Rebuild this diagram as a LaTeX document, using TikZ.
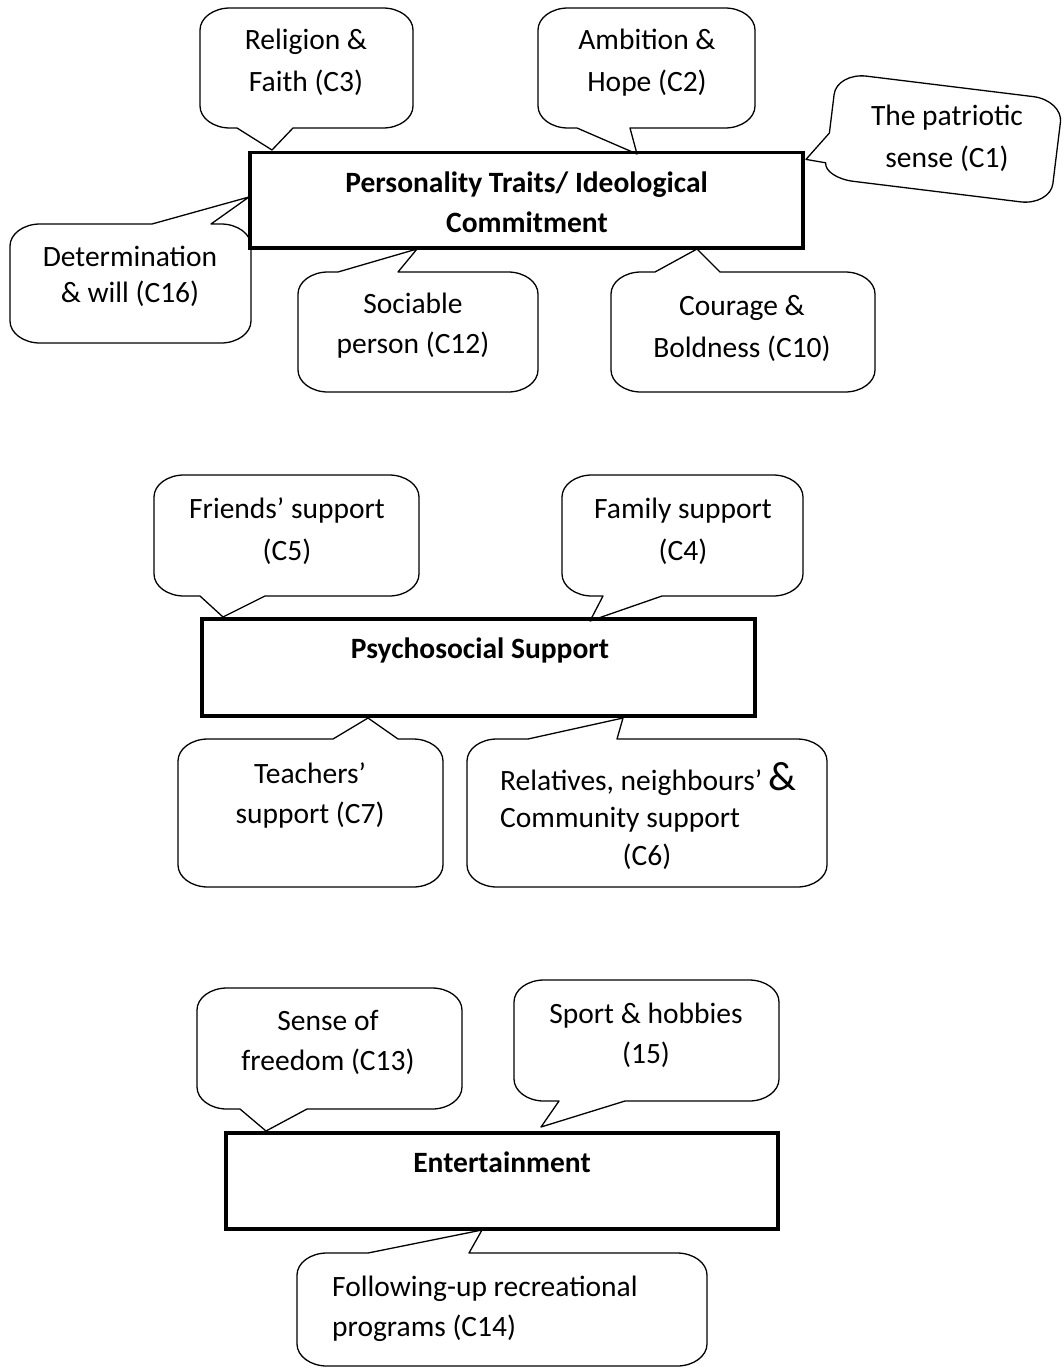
\documentclass[tikz,border=0pt]{standalone}
\usepackage{fontspec}
\setmainfont{Carlito}
% elliptical corner radii (rx, ry) and cubic control offsets (r - 0.552 r)
\def\rx{30}\def\ry{22}\def\cx{13.4}\def\cy{9.9}
% callout with pointer on the bottom edge: x1 y1 x2 y2 base1 tipx tipy base2
\newcommand\cobot[8]{%
  \draw[callout] (#1+\rx,#2) -- (#3-\rx,#2)
    .. controls (#3-\cx,#2) and (#3,#2+\cy) .. (#3,#2+\ry)
    -- (#3,#4-\ry) .. controls (#3,#4-\cy) and (#3-\cx,#4) .. (#3-\rx,#4)
    -- (#8,#4) -- (#6,#7) -- (#5,#4)
    -- (#1+\rx,#4) .. controls (#1+\cx,#4) and (#1,#4-\cy) .. (#1,#4-\ry)
    -- (#1,#2+\ry) .. controls (#1,#2+\cy) and (#1+\cx,#2) .. (#1+\rx,#2) -- cycle;}
% callout with pointer on the top edge
\newcommand\cotop[8]{%
  \draw[callout] (#1+\rx,#2) -- (#5,#2) -- (#6,#7) -- (#8,#2)
    -- (#3-\rx,#2) .. controls (#3-\cx,#2) and (#3,#2+\cy) .. (#3,#2+\ry)
    -- (#3,#4-\ry) .. controls (#3,#4-\cy) and (#3-\cx,#4) .. (#3-\rx,#4)
    -- (#1+\rx,#4) .. controls (#1+\cx,#4) and (#1,#4-\cy) .. (#1,#4-\ry)
    -- (#1,#2+\ry) .. controls (#1,#2+\cy) and (#1+\cx,#2) .. (#1+\rx,#2) -- cycle;}
\tikzset{
  callout/.style={draw=black, fill=white, line width=1.3pt, line join=round},
  mainbox/.style={draw=black, line width=3.3pt, inner sep=0pt, fill=none},
  txt/.style={font=\fontsize{29.5}{35}\selectfont, inner sep=0pt, anchor=base},
  txtl/.style={txt, anchor=base west},
  btxt/.style={font=\fontsize{29.5}{35}\selectfont\bfseries, inner sep=0pt, anchor=base},
}
\begin{document}
\begin{tikzpicture}[x=1pt,y=-1pt]
\useasboundingbox (0,0) rectangle (1063,1370);
\fill[white] (0,0) rectangle (1063,1370);

% ---------- Personality Traits ----------
\cobot{200}{8}{413}{128}{237}{272}{150}{293}
\cobot{538}{8}{755}{128}{577}{637}{154}{630}
\cotop{10}{224}{251}{343}{152}{249}{197}{211}
\cotop{298}{272}{538}{392}{338}{417}{249}{398}
\cotop{611}{272}{875}{392}{655}{697}{249}{720}
\begin{scope}[shift={(943.5,139)}, rotate=-7]
  \coordinate (c1tip) at (-134,37);
  \draw[callout] (-84,-53) -- (84,-53)
    .. controls (100.6,-53) and (114,-43.1) .. (114,-31)
    -- (114,31) .. controls (114,43.1) and (100.6,53) .. (84,53)
    -- (-84,53) .. controls (-100.6,53) and (-114,46.3) .. (-114,38)
    -- (c1tip) -- (-114,8)
    -- (-114,-31) .. controls (-114,-43.1) and (-100.6,-53) .. (-84,-53) -- cycle;
\end{scope}

\node[mainbox, minimum width=553pt, minimum height=95.5pt] (ptbox) at (526.5,200.25) {};

\node[txt] (c3a) at (306,50) {Religion \&};
\node[txt] (c3b) at (306,92) {Faith (C3)};
\node[txt] (c2a) at (647,50) {Ambition \&};
\node[txt] (c2b) at (647,92) {Hope (C2)};
\node[txt] (c1a) at (947,125) {The patriotic};
\node[txt] (c1b) at (947,167) {sense (C1)};
\node[btxt] (pta) at (526.5,192) {Personality Traits/ Ideological};
\node[btxt] (ptb) at (527,232) {Commitment};
\node[txt] (c16a) at (130,266) {Determination};
\node[txt] (c16b) at (130,302) {\& will (C16)};
\node[txt] (c12a) at (413,313) {Sociable};
\node[txt] (c12b) at (413,353) {person (C12)};
\node[txt] (c10a) at (742,315) {Courage \&};
\node[txt] (c10b) at (742,357) {Boldness (C10)};

% ---------- Psychosocial Support ----------
\cobot{154}{475}{419}{596}{200}{223}{617}{265}
\cobot{562}{475}{803}{596}{603}{590}{621}{662}
\cotop{178}{739}{443}{887}{333}{368}{718}{398}
\cotop{467}{739}{827}{887}{528}{623}{718}{617}

\node[mainbox, minimum width=553pt, minimum height=97pt] (psbox) at (478.5,667.5) {};

\node[txt] (c5a) at (287,518) {Friends’ support};
\node[txt] (c5b) at (287,560) {(C5)};
\node[txt] (c4a) at (683,518) {Family support};
\node[txt] (c4b) at (683,560) {(C4)};
\node[btxt] (psa) at (480,658) {Psychosocial Support};
\node[txt] (c7a) at (310,783) {Teachers’};
\node[txt] (c7b) at (310,823) {support (C7)};
\node[txtl] (c6a) at (500,790) {Relatives, neighbours’ {\fontsize{41}{41}\selectfont\&}};
\node[txtl] (c6b) at (500,827) {Community support};
\node[txt] (c6c) at (647,865) {(C6)};

% ---------- Entertainment ----------
\cobot{197}{988}{462}{1109}{240}{266}{1131}{307}
\cobot{514}{980}{779}{1101}{559}{541}{1127}{625}
\cotop{297}{1253}{707}{1366}{368}{482}{1230}{469}

\node[mainbox, minimum width=552pt, minimum height=96pt] (enbox) at (502,1181) {};

\node[txt] (c13a) at (328,1030) {Sense of};
\node[txt] (c13b) at (328,1070) {freedom (C13)};
\node[txt] (c15a) at (646,1023) {Sport \& hobbies};
\node[txt] (c15b) at (646,1063) {(15)};
\node[btxt] (ena) at (502,1172) {Entertainment};
\node[txtl] (c14a) at (332,1296) {Following-up recreational};
\node[txtl] (c14b) at (332,1336) {programs (C14)};
\end{tikzpicture}
\end{document}
